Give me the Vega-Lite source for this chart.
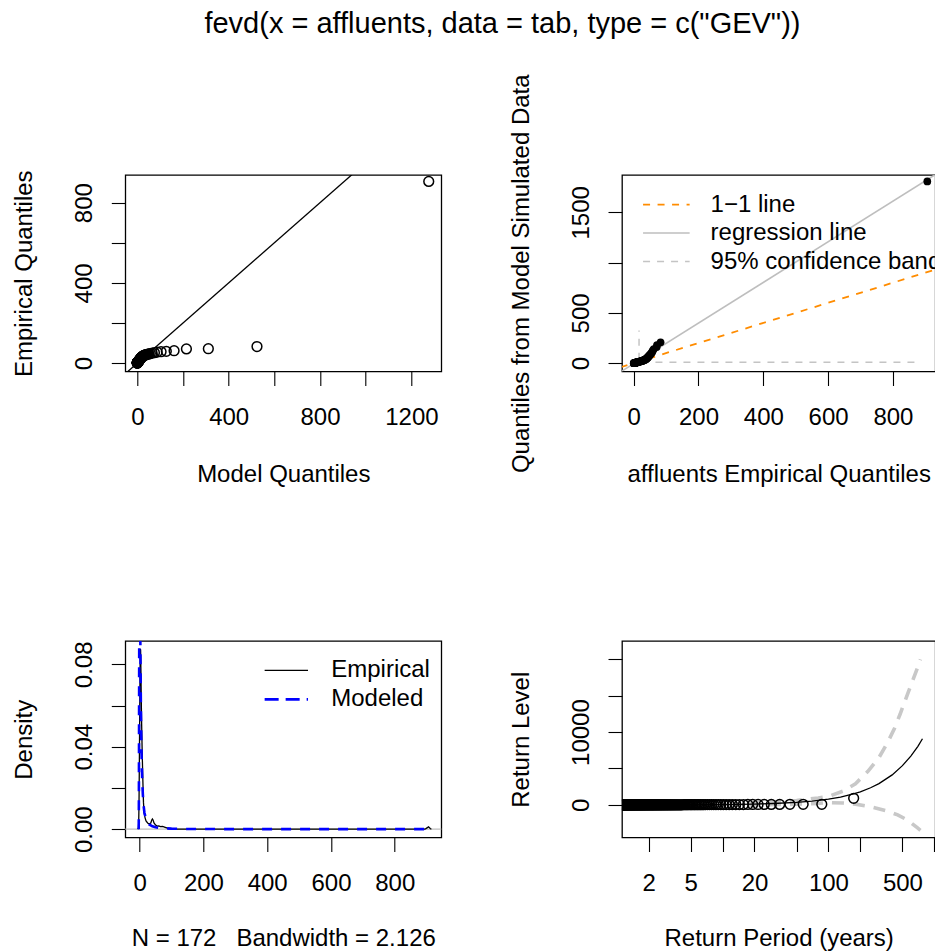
{
  "$schema": "https://vega.github.io/schema/vega-lite/v6.json",
  "background": "white",
  "padding": {"left": 11.3, "top": 10, "right": 0, "bottom": 0},
  "title": {"text": "fevd(x = affluents, data = tab, type = c(\"GEV\"))", "font": "Liberation Sans", "fontSize": 29, "fontWeight": "normal", "color": "black", "anchor": "middle", "dx": 28.5, "offset": 34},
  "datasets": {
    "qq": [
      {"k":1,"emp":906,"mod":1276,"sim":1807},
      {"k":2,"emp":83,"mod":524,"sim":208},
      {"k":3,"emp":72,"mod":311,"sim":180},
      {"k":4,"emp":71,"mod":215,"sim":160},
      {"k":5,"emp":62,"mod":161,"sim":140},
      {"k":6,"emp":59,"mod":127,"sim":125},
      {"k":7,"emp":57,"mod":104,"sim":112},
      {"k":8,"emp":55,"mod":87,"sim":100},
      {"k":9,"emp":52,"mod":75,"sim":90},
      {"k":10,"emp":50,"mod":65,"sim":82},
      {"k":11,"emp":48,"mod":57,"sim":75},
      {"k":12,"emp":46,"mod":51,"sim":68},
      {"k":13,"emp":45,"mod":46,"sim":62},
      {"k":14,"emp":43,"mod":41.6,"sim":57},
      {"k":15,"emp":42,"mod":37.9,"sim":53},
      {"k":16,"emp":41,"mod":34.8,"sim":49},
      {"k":17,"emp":40,"mod":32,"sim":46},
      {"k":18,"emp":39,"mod":29.6,"sim":43},
      {"k":19,"emp":37,"mod":27.5,"sim":40},
      {"k":20,"emp":36,"mod":25.6,"sim":37},
      {"k":21,"emp":35,"mod":23.9,"sim":35},
      {"k":22,"emp":33,"mod":22.4,"sim":33},
      {"k":23,"emp":32,"mod":21.1,"sim":31},
      {"k":24,"emp":31,"mod":19.9,"sim":29},
      {"k":25,"emp":29.5,"mod":18.8,"sim":27.5},
      {"k":26,"emp":28,"mod":17.7,"sim":26},
      {"k":27,"emp":27,"mod":16.8,"sim":24.5},
      {"k":28,"emp":26,"mod":16.0,"sim":23},
      {"k":29,"emp":25,"mod":15.2,"sim":22},
      {"k":30,"emp":24,"mod":14.4,"sim":21},
      {"k":32,"emp":22,"mod":13.1,"sim":19},
      {"k":34,"emp":20,"mod":12.0,"sim":17.5},
      {"k":36,"emp":18,"mod":11.0,"sim":16},
      {"k":38,"emp":16.7,"mod":10.1,"sim":14.7},
      {"k":40,"emp":15.5,"mod":9.4,"sim":13.5},
      {"k":43,"emp":14,"mod":8.37,"sim":12},
      {"k":46,"emp":12.8,"mod":7.51,"sim":11},
      {"k":49,"emp":11.6,"mod":6.77,"sim":10},
      {"k":52,"emp":10.6,"mod":6.13,"sim":9.2},
      {"k":55,"emp":9.6,"mod":5.57,"sim":8.3},
      {"k":58,"emp":9.0,"mod":5.07,"sim":7.8},
      {"k":61,"emp":8.4,"mod":4.63,"sim":7.2},
      {"k":64,"emp":7.9,"mod":4.23,"sim":6.7},
      {"k":67,"emp":7.5,"mod":3.88,"sim":6.2},
      {"k":70,"emp":7.1,"mod":3.56,"sim":5.8},
      {"k":73,"emp":6.7,"mod":3.27,"sim":5.4},
      {"k":76,"emp":6.4,"mod":3.00,"sim":5.1},
      {"k":79,"emp":6.1,"mod":2.76,"sim":4.8},
      {"k":82,"emp":5.9,"mod":2.54,"sim":4.5},
      {"k":85,"emp":5.6,"mod":2.34,"sim":4.2},
      {"k":88,"emp":5.4,"mod":2.15,"sim":4.0},
      {"k":91,"emp":5.2,"mod":1.97,"sim":3.8},
      {"k":94,"emp":5.0,"mod":1.81,"sim":3.6},
      {"k":97,"emp":4.8,"mod":1.66,"sim":3.4},
      {"k":100,"emp":4.6,"mod":1.52,"sim":3.2},
      {"k":103,"emp":4.4,"mod":1.39,"sim":3.0},
      {"k":106,"emp":4.3,"mod":1.27,"sim":2.9},
      {"k":109,"emp":4.1,"mod":1.15,"sim":2.7},
      {"k":112,"emp":4.0,"mod":1.05,"sim":2.6},
      {"k":115,"emp":3.8,"mod":0.94,"sim":2.4},
      {"k":118,"emp":3.7,"mod":0.85,"sim":2.3},
      {"k":121,"emp":3.5,"mod":0.76,"sim":2.1},
      {"k":124,"emp":3.4,"mod":0.67,"sim":2.0},
      {"k":127,"emp":3.2,"mod":0.59,"sim":1.9},
      {"k":130,"emp":3.1,"mod":0.52,"sim":1.8},
      {"k":133,"emp":2.9,"mod":0.44,"sim":1.7},
      {"k":136,"emp":2.8,"mod":0.38,"sim":1.6},
      {"k":139,"emp":2.6,"mod":0.31,"sim":1.5},
      {"k":142,"emp":2.5,"mod":0.25,"sim":1.4},
      {"k":145,"emp":2.3,"mod":0.19,"sim":1.3},
      {"k":148,"emp":2.2,"mod":0.13,"sim":1.2},
      {"k":151,"emp":2.0,"mod":0.08,"sim":1.1},
      {"k":154,"emp":1.9,"mod":0.03,"sim":1.0},
      {"k":157,"emp":1.7,"mod":-0.02,"sim":0.9},
      {"k":160,"emp":1.5,"mod":-0.07,"sim":0.8},
      {"k":163,"emp":1.3,"mod":-0.12,"sim":0.6},
      {"k":166,"emp":1.0,"mod":-0.16,"sim":0.5},
      {"k":169,"emp":0.7,"mod":-0.2,"sim":0.35},
      {"k":172,"emp":0.2,"mod":-0.24,"sim":0.2}
    ],
    "rlp": [
      {"rp":173,"lv":906},{"rp":86.5,"lv":83},{"rp":57.667,"lv":72},{"rp":43.25,"lv":71},{"rp":34.6,"lv":62},
      {"rp":28.833,"lv":59},{"rp":24.714,"lv":57},{"rp":21.625,"lv":55},{"rp":19.222,"lv":52},{"rp":17.3,"lv":50},
      {"rp":15.727,"lv":48},{"rp":14.417,"lv":46},{"rp":13.308,"lv":45},{"rp":12.357,"lv":43},{"rp":11.533,"lv":42},
      {"rp":10.813,"lv":41},{"rp":10.176,"lv":40},{"rp":9.611,"lv":39},{"rp":9.105,"lv":37},{"rp":8.65,"lv":36},
      {"rp":8.238,"lv":35},{"rp":7.864,"lv":33},{"rp":7.522,"lv":32},{"rp":7.208,"lv":31},{"rp":6.92,"lv":29.5},
      {"rp":6.654,"lv":28},{"rp":6.407,"lv":27},{"rp":6.179,"lv":26},{"rp":5.966,"lv":25},{"rp":5.767,"lv":24},
      {"rp":5.581,"lv":23},{"rp":5.406,"lv":22},{"rp":5.242,"lv":21},{"rp":5.088,"lv":20},{"rp":4.943,"lv":19},
      {"rp":4.806,"lv":18},{"rp":4.676,"lv":17.3},{"rp":4.553,"lv":16.7},{"rp":4.436,"lv":16.1},{"rp":4.325,"lv":15.5},
      {"rp":4.22,"lv":15},{"rp":4.119,"lv":14.5},{"rp":4.023,"lv":14},{"rp":3.932,"lv":13.6},{"rp":3.844,"lv":13.2},
      {"rp":3.761,"lv":12.8},{"rp":3.681,"lv":12.4},{"rp":3.604,"lv":12},{"rp":3.531,"lv":11.6},{"rp":3.46,"lv":11.3},
      {"rp":3.392,"lv":10.9},{"rp":3.327,"lv":10.6},{"rp":3.264,"lv":10.3},{"rp":3.204,"lv":10},{"rp":3.145,"lv":9.6},
      {"rp":3.089,"lv":9.4},{"rp":3.035,"lv":9.2},{"rp":2.983,"lv":9},{"rp":2.932,"lv":8.8},{"rp":2.883,"lv":8.6},
      {"rp":2.836,"lv":8.4},{"rp":2.79,"lv":8.2},{"rp":2.746,"lv":8.1},{"rp":2.703,"lv":7.9},{"rp":2.662,"lv":7.8},
      {"rp":2.621,"lv":7.6},{"rp":2.582,"lv":7.5},{"rp":2.544,"lv":7.4},{"rp":2.507,"lv":7.2},{"rp":2.471,"lv":7.1},
      {"rp":2.437,"lv":7},{"rp":2.403,"lv":6.8},{"rp":2.37,"lv":6.7},{"rp":2.338,"lv":6.6},{"rp":2.307,"lv":6.5},
      {"rp":2.276,"lv":6.4},{"rp":2.247,"lv":6.3},{"rp":2.218,"lv":6.2},{"rp":2.19,"lv":6.1},{"rp":2.163,"lv":6},
      {"rp":2.136,"lv":5.95},{"rp":2.11,"lv":5.9},{"rp":2.084,"lv":5.8},{"rp":2.06,"lv":5.7},{"rp":2.035,"lv":5.6},
      {"rp":2.012,"lv":5.55},{"rp":1.989,"lv":5.5},{"rp":1.966,"lv":5.4},{"rp":1.944,"lv":5.35},{"rp":1.922,"lv":5.3},
      {"rp":1.901,"lv":5.2},{"rp":1.88,"lv":5.15},{"rp":1.86,"lv":5.1},{"rp":1.84,"lv":5},{"rp":1.821,"lv":4.95},
      {"rp":1.802,"lv":4.9},{"rp":1.784,"lv":4.8},{"rp":1.765,"lv":4.75},{"rp":1.747,"lv":4.7},{"rp":1.73,"lv":4.6},
      {"rp":1.713,"lv":4.55},{"rp":1.696,"lv":4.5},{"rp":1.68,"lv":4.4},{"rp":1.663,"lv":4.35},{"rp":1.648,"lv":4.3},
      {"rp":1.632,"lv":4.3},{"rp":1.617,"lv":4.2},{"rp":1.602,"lv":4.15},{"rp":1.587,"lv":4.1},{"rp":1.573,"lv":4.05},
      {"rp":1.559,"lv":4.0},{"rp":1.545,"lv":4.0},{"rp":1.531,"lv":3.9},{"rp":1.518,"lv":3.85},{"rp":1.504,"lv":3.8},
      {"rp":1.491,"lv":3.75},{"rp":1.479,"lv":3.7},{"rp":1.466,"lv":3.7},{"rp":1.454,"lv":3.6},{"rp":1.442,"lv":3.55},
      {"rp":1.43,"lv":3.5},{"rp":1.418,"lv":3.45},{"rp":1.407,"lv":3.4},{"rp":1.395,"lv":3.4},{"rp":1.384,"lv":3.3},
      {"rp":1.373,"lv":3.25},{"rp":1.362,"lv":3.2},{"rp":1.352,"lv":3.15},{"rp":1.341,"lv":3.1},{"rp":1.331,"lv":3.1},
      {"rp":1.321,"lv":3.0},{"rp":1.311,"lv":2.95},{"rp":1.301,"lv":2.9},{"rp":1.291,"lv":2.85},{"rp":1.281,"lv":2.8},
      {"rp":1.272,"lv":2.8},{"rp":1.263,"lv":2.7},{"rp":1.254,"lv":2.65},{"rp":1.245,"lv":2.6},{"rp":1.236,"lv":2.55},
      {"rp":1.227,"lv":2.5},{"rp":1.218,"lv":2.5},{"rp":1.21,"lv":2.4},{"rp":1.201,"lv":2.35},{"rp":1.193,"lv":2.3},
      {"rp":1.185,"lv":2.25},{"rp":1.177,"lv":2.2},{"rp":1.169,"lv":2.2},{"rp":1.161,"lv":2.1},{"rp":1.153,"lv":2.05},
      {"rp":1.146,"lv":2.0},{"rp":1.138,"lv":1.95},{"rp":1.131,"lv":1.9},{"rp":1.123,"lv":1.9},{"rp":1.116,"lv":1.8},
      {"rp":1.109,"lv":1.75},{"rp":1.102,"lv":1.7},{"rp":1.095,"lv":1.6},{"rp":1.088,"lv":1.55},{"rp":1.081,"lv":1.5},
      {"rp":1.075,"lv":1.45},{"rp":1.068,"lv":1.4},{"rp":1.061,"lv":1.3},{"rp":1.055,"lv":1.2},{"rp":1.048,"lv":1.1},
      {"rp":1.042,"lv":1.0},{"rp":1.036,"lv":0.9},{"rp":1.03,"lv":0.8},{"rp":1.024,"lv":0.7},{"rp":1.018,"lv":0.6},
      {"rp":1.012,"lv":0.4},{"rp":1.006,"lv":0.2}
    ],
    "demp": [
      {"x":-6,"y":0},{"x":-4,"y":0.0005},{"x":-3,"y":0.003},{"x":-2,"y":0.012},{"x":-1,"y":0.03},
      {"x":0,"y":0.052},{"x":1,"y":0.073},{"x":2,"y":0.0875},{"x":3,"y":0.087},{"x":4,"y":0.077},
      {"x":5,"y":0.064},{"x":6,"y":0.053},{"x":7,"y":0.045},{"x":8,"y":0.037},{"x":10,"y":0.024},
      {"x":12,"y":0.013},{"x":14,"y":0.008},{"x":17,"y":0.0055},{"x":20,"y":0.004},{"x":25,"y":0.003},
      {"x":30,"y":0.0025},{"x":35,"y":0.003},{"x":38,"y":0.0045},{"x":40,"y":0.005},{"x":42,"y":0.0045},
      {"x":45,"y":0.003},{"x":50,"y":0.002},{"x":55,"y":0.0015},{"x":60,"y":0.0016},{"x":65,"y":0.0012},
      {"x":72,"y":0.0013},{"x":80,"y":0.0009},{"x":85,"y":0.0006},{"x":90,"y":0.0003},{"x":100,"y":0.0001},
      {"x":110,"y":0},{"x":300,"y":0},{"x":600,"y":0},{"x":895,"y":0},{"x":900,"y":0.0005},
      {"x":906,"y":0.0011},{"x":912,"y":0.0002},{"x":915,"y":0}
    ],
    "dmod": [
      {"x":-3,"y":0},{"x":-2.5,"y":0.01},{"x":-2,"y":0.04},{"x":-1.5,"y":0.08},{"x":-1,"y":0.11},
      {"x":0,"y":0.13},{"x":1,"y":0.12},{"x":2,"y":0.095},{"x":3,"y":0.075},{"x":4,"y":0.058},
      {"x":5,"y":0.045},{"x":6,"y":0.036},{"x":8,"y":0.024},{"x":10,"y":0.017},{"x":12,"y":0.012},
      {"x":15,"y":0.008},{"x":20,"y":0.0048},{"x":25,"y":0.0032},{"x":30,"y":0.0023},{"x":40,"y":0.0014},
      {"x":50,"y":0.0009},{"x":70,"y":0.0005},{"x":100,"y":0.00025},{"x":150,"y":0.0001},{"x":200,"y":0.00006},
      {"x":300,"y":0.00003},{"x":500,"y":0.00001},{"x":895,"y":0}
    ],
    "rl": [
      {"rp":1.12,"lv":0},{"rp":1.5,"lv":2},{"rp":2,"lv":5},{"rp":3,"lv":9},{"rp":5,"lv":18},
      {"rp":10,"lv":45},{"rp":20,"lv":110},{"rp":30,"lv":190},{"rp":50,"lv":340},{"rp":70,"lv":520},
      {"rp":100,"lv":780},{"rp":130,"lv":1070},{"rp":172,"lv":1500},{"rp":200,"lv":1800},{"rp":250,"lv":2350},
      {"rp":300,"lv":2920},{"rp":400,"lv":4120},{"rp":500,"lv":5390},{"rp":600,"lv":6700},{"rp":700,"lv":8050},
      {"rp":773,"lv":9087}
    ],
    "rlb": [
      {"b":"up","rp":1.12,"lv":5},{"b":"up","rp":2,"lv":15},{"b":"up","rp":5,"lv":50},{"b":"up","rp":10,"lv":120},
      {"b":"up","rp":20,"lv":250},{"b":"up","rp":50,"lv":600},{"b":"up","rp":80,"lv":950},{"b":"up","rp":100,"lv":1150},
      {"b":"up","rp":138,"lv":1900},{"b":"up","rp":180,"lv":2900},{"b":"up","rp":236,"lv":4600},{"b":"up","rp":300,"lv":6500},
      {"b":"up","rp":363,"lv":8600},{"b":"up","rp":420,"lv":10500},{"b":"up","rp":475,"lv":12450},{"b":"up","rp":568,"lv":15500},
      {"b":"up","rp":693,"lv":18800},{"b":"up","rp":740,"lv":20000},
      {"b":"lo","rp":1.12,"lv":-5},{"b":"lo","rp":5,"lv":-10},{"b":"lo","rp":10,"lv":-15},{"b":"lo","rp":20,"lv":-20},
      {"b":"lo","rp":50,"lv":80},{"b":"lo","rp":80,"lv":200},{"b":"lo","rp":100,"lv":300},{"b":"lo","rp":138,"lv":250},
      {"b":"lo","rp":180,"lv":100},{"b":"lo","rp":254,"lv":-280},{"b":"lo","rp":350,"lv":-800},{"b":"lo","rp":451,"lv":-1380},
      {"b":"lo","rp":560,"lv":-2100},{"b":"lo","rp":690,"lv":-3140},{"b":"lo","rp":740,"lv":-3500}
    ]
  },
  "columns": 2,
  "spacing": {"row": 269, "column": 180.7},
  "bounds": "flush",
  "concat": [
    {
      "width": 316, "height": 196.5,
      "layer": [
        {
          "data": {"values": [{"xa": -100, "ya": -100, "xb": 1400, "yb": 1400}]},
          "mark": {"type": "rule", "color": "black", "strokeWidth": 1.3, "clip": true},
          "encoding": {
            "x": {"field": "xa", "type": "quantitative", "title": "Model Quantiles", "scale": {"domain": [-52.6, 1331], "nice": false, "zero": false}, "axis": {"values": [0,200,400,600,800,1000,1200], "format": "d", "labelExpr": "datum.value % 400 === 0 ? datum.label : ''", "titleY": 110}},
            "y": {"field": "ya", "type": "quantitative", "title": "Empirical Quantiles", "scale": {"domain": [-41.6, 938], "nice": false, "zero": false}, "axis": {"values": [0,200,400,600,800], "format": "d", "labelExpr": "datum.value % 400 === 0 ? datum.label : ''"}},
            "x2": {"field": "xb"},
            "y2": {"field": "yb"}
          }
        },
        {
          "data": {"name": "qq"},
          "mark": {"type": "point", "shape": "circle", "filled": false, "color": "black", "size": 95, "strokeWidth": 1.5, "opacity": 1},
          "encoding": {
            "x": {"field": "mod", "type": "quantitative", "title": "Model Quantiles"},
            "y": {"field": "emp", "type": "quantitative", "title": "Empirical Quantiles"}
          }
        }
      ]
    },
    {
      "width": 313.3, "height": 196.5,
      "layer": [
        {
          "data": {"values": [{"xa": 24, "ya": 10, "xb": 881, "yb": 10}, {"xa": 16.6, "ya": 33, "xb": 16.6, "yb": 325}]},
          "mark": {"type": "rule", "color": "#c4c4c4", "strokeWidth": 1.5, "strokeDash": [7, 7], "clip": true},
          "encoding": {
            "x": {"field": "xa", "type": "quantitative", "title": "affluents Empirical Quantiles", "scale": {"domain": [-36, 930.7], "nice": false, "zero": false}, "axis": {"values": [0,200,400,600,800], "format": "d", "titleY": 110}},
            "y": {"field": "ya", "type": "quantitative", "title": "Quantiles from Model Simulated Data", "scale": {"domain": [-82.8, 1871], "nice": false, "zero": false}, "axis": {"values": [0,500,1000,1500], "format": "d", "labelExpr": "datum.value === 1000 ? '' : datum.label"}},
            "x2": {"field": "xb"},
            "y2": {"field": "yb"}
          }
        },
        {
          "data": {"values": [{"xa": -40, "ya": -40, "xb": 935, "yb": 935}]},
          "mark": {"type": "rule", "color": "#FF8C00", "strokeWidth": 1.8, "strokeDash": [7, 7.5], "clip": true},
          "encoding": {
            "x": {"field": "xa", "type": "quantitative", "title": "affluents Empirical Quantiles"},
            "y": {"field": "ya", "type": "quantitative", "title": "Quantiles from Model Simulated Data"},
            "x2": {"field": "xb"},
            "y2": {"field": "yb"}
          }
        },
        {
          "data": {"values": [{"xa": -40, "ya": -85.8, "xb": 935, "yb": 1883.7}]},
          "mark": {"type": "rule", "color": "#bebebe", "strokeWidth": 1.6, "clip": true},
          "encoding": {
            "x": {"field": "xa", "type": "quantitative", "title": "affluents Empirical Quantiles"},
            "y": {"field": "ya", "type": "quantitative", "title": "Quantiles from Model Simulated Data"},
            "x2": {"field": "xb"},
            "y2": {"field": "yb"}
          }
        },
        {
          "data": {"name": "qq"},
          "mark": {"type": "point", "shape": "circle", "filled": true, "color": "black", "size": 60, "opacity": 1},
          "encoding": {
            "x": {"field": "emp", "type": "quantitative", "title": "affluents Empirical Quantiles"},
            "y": {"field": "sim", "type": "quantitative", "title": "Quantiles from Model Simulated Data"}
          }
        },
        {
          "data": {"values": [{"xa": 29, "xb": 172.7, "ya": 1576}]},
          "mark": {"type": "rule", "color": "#FF8C00", "strokeWidth": 1.8, "strokeDash": [7, 7.5]},
          "encoding": {
            "x": {"field": "xa", "type": "quantitative", "title": "affluents Empirical Quantiles"},
            "x2": {"field": "xb"},
            "y": {"field": "ya", "type": "quantitative", "title": "Quantiles from Model Simulated Data"}
          }
        },
        {
          "data": {"values": [{"xa": 29, "xb": 172.7, "ya": 1295}]},
          "mark": {"type": "rule", "color": "#bebebe", "strokeWidth": 1.6},
          "encoding": {
            "x": {"field": "xa", "type": "quantitative", "title": "affluents Empirical Quantiles"},
            "x2": {"field": "xb"},
            "y": {"field": "ya", "type": "quantitative", "title": "Quantiles from Model Simulated Data"}
          }
        },
        {
          "data": {"values": [{"xa": 29, "xb": 172.7, "ya": 1010}]},
          "mark": {"type": "rule", "color": "#c4c4c4", "strokeWidth": 1.5, "strokeDash": [7, 7]},
          "encoding": {
            "x": {"field": "xa", "type": "quantitative", "title": "affluents Empirical Quantiles"},
            "x2": {"field": "xb"},
            "y": {"field": "ya", "type": "quantitative", "title": "Quantiles from Model Simulated Data"}
          }
        },
        {
          "data": {"values": [{"xa": 237.4, "ya": 1576, "t": "1\u22121 line"}, {"xa": 237.4, "ya": 1295, "t": "regression line"}, {"xa": 237.4, "ya": 1010, "t": "95% confidence band"}]},
          "mark": {"type": "text", "align": "left", "baseline": "middle", "font": "Liberation Sans", "fontSize": 24, "color": "black", "clip": true},
          "encoding": {
            "x": {"field": "xa", "type": "quantitative", "title": "affluents Empirical Quantiles"},
            "y": {"field": "ya", "type": "quantitative", "title": "Quantiles from Model Simulated Data"},
            "text": {"field": "t"}
          }
        }
      ]
    },
    {
      "width": 316, "height": 196.5,
      "layer": [
        {
          "data": {"values": [{"y0": 0}]},
          "mark": {"type": "rule", "color": "#bebebe", "strokeWidth": 1.2},
          "encoding": {
            "y": {"field": "y0", "type": "quantitative", "title": "Density", "scale": {"domain": [-0.00404, 0.0913], "nice": false, "zero": false}, "axis": {"values": [0, 0.02, 0.04, 0.06, 0.08], "format": ".2f", "labelExpr": "(datum.value === 0.02 || datum.value === 0.06) ? '' : datum.label"}}
          }
        },
        {
          "data": {"name": "demp"},
          "mark": {"type": "line", "color": "black", "strokeWidth": 1.3, "clip": true},
          "encoding": {
            "x": {"field": "x", "type": "quantitative", "title": "N = 172\u00a0\u00a0 Bandwidth = 2.126", "scale": {"domain": [-45, 946], "nice": false, "zero": false}, "axis": {"values": [0,200,400,600,800], "format": "d", "titleY": 108}},
            "y": {"field": "y", "type": "quantitative", "title": "Density"}
          }
        },
        {
          "data": {"name": "dmod"},
          "mark": {"type": "line", "color": "#0000FF", "strokeWidth": 2.6, "strokeDash": [10, 9], "clip": true},
          "encoding": {
            "x": {"field": "x", "type": "quantitative", "title": "N = 172\u00a0\u00a0 Bandwidth = 2.126"},
            "y": {"field": "y", "type": "quantitative", "title": "Density"}
          }
        },
        {
          "data": {"values": [{"xa": 392, "xb": 528, "ya": 0.077}]},
          "mark": {"type": "rule", "color": "black", "strokeWidth": 1.3},
          "encoding": {
            "x": {"field": "xa", "type": "quantitative", "title": "N = 172\u00a0\u00a0 Bandwidth = 2.126"},
            "x2": {"field": "xb"},
            "y": {"field": "ya", "type": "quantitative", "title": "Density"}
          }
        },
        {
          "data": {"values": [{"xa": 392, "xb": 528, "ya": 0.063}]},
          "mark": {"type": "rule", "color": "#0000FF", "strokeWidth": 2.6, "strokeDash": [14, 7]},
          "encoding": {
            "x": {"field": "xa", "type": "quantitative", "title": "N = 172\u00a0\u00a0 Bandwidth = 2.126"},
            "x2": {"field": "xb"},
            "y": {"field": "ya", "type": "quantitative", "title": "Density"}
          }
        },
        {
          "data": {"values": [{"xa": 601, "ya": 0.077, "t": "Empirical"}, {"xa": 601, "ya": 0.063, "t": "Modeled"}]},
          "mark": {"type": "text", "align": "left", "baseline": "middle", "font": "Liberation Sans", "fontSize": 24, "color": "black"},
          "encoding": {
            "x": {"field": "xa", "type": "quantitative", "title": "N = 172\u00a0\u00a0 Bandwidth = 2.126"},
            "y": {"field": "ya", "type": "quantitative", "title": "Density"},
            "text": {"field": "t"}
          }
        }
      ]
    },
    {
      "width": 313.3, "height": 196.5,
      "layer": [
        {
          "data": {"name": "rlb"},
          "mark": {"type": "line", "color": "#c8c8c8", "strokeWidth": 3.6, "strokeDash": [12, 9], "clip": true},
          "encoding": {
            "x": {"field": "rp", "type": "quantitative", "title": "Return Period (years)", "scale": {"type": "log", "domain": [1.12, 1022], "nice": false}, "axis": {"values": [2,5,10,20,50,100,200,500,1000], "format": "d", "labelExpr": "(datum.value === 10 || datum.value === 50 || datum.value === 200 || datum.value === 1000) ? '' : datum.label", "titleY": 108}},
            "y": {"field": "lv", "type": "quantitative", "title": "Return Level", "scale": {"domain": [-4485, 22517], "nice": false, "zero": false}, "axis": {"values": [0,5000,10000,15000,20000], "format": "d", "labelExpr": "(datum.value === 0 || datum.value === 10000) ? datum.label : ''"}},
            "detail": {"field": "b"}
          }
        },
        {
          "data": {"name": "rl"},
          "mark": {"type": "line", "color": "black", "strokeWidth": 1.3, "clip": true},
          "encoding": {
            "x": {"field": "rp", "type": "quantitative", "title": "Return Period (years)"},
            "y": {"field": "lv", "type": "quantitative", "title": "Return Level"}
          }
        },
        {
          "data": {"name": "rlp"},
          "mark": {"type": "point", "shape": "circle", "filled": false, "color": "black", "size": 95, "strokeWidth": 1.5, "opacity": 1, "clip": true},
          "encoding": {
            "x": {"field": "rp", "type": "quantitative", "title": "Return Period (years)"},
            "y": {"field": "lv", "type": "quantitative", "title": "Return Level"}
          }
        }
      ]
    }
  ],
  "config": {
    "font": "Liberation Sans",
    "view": {"stroke": "black", "strokeWidth": 1.3},
    "axis": {"domain": false, "grid": false, "ticks": true, "tickColor": "black", "tickSize": 14, "tickWidth": 1.1, "labelFont": "Liberation Sans", "labelFontSize": 24, "labelColor": "black", "labelOverlap": false, "labelFlush": false, "labelLimit": 500, "titleFont": "Liberation Sans", "titleFontSize": 24, "titleFontWeight": "normal", "titleColor": "black", "titleLimit": 1000},
    "axisX": {"labelAngle": 0, "labelAlign": "center", "labelBaseline": "top", "labelPadding": 20, "titleBaseline": "alphabetic", "titleAnchor": "middle"},
    "axisY": {"labelAngle": -90, "labelAlign": "center", "labelBaseline": "bottom", "labelPadding": 14.7, "titleAngle": -90, "titleBaseline": "middle", "titleX": -100.7, "titleAnchor": "middle"}
  }
}
